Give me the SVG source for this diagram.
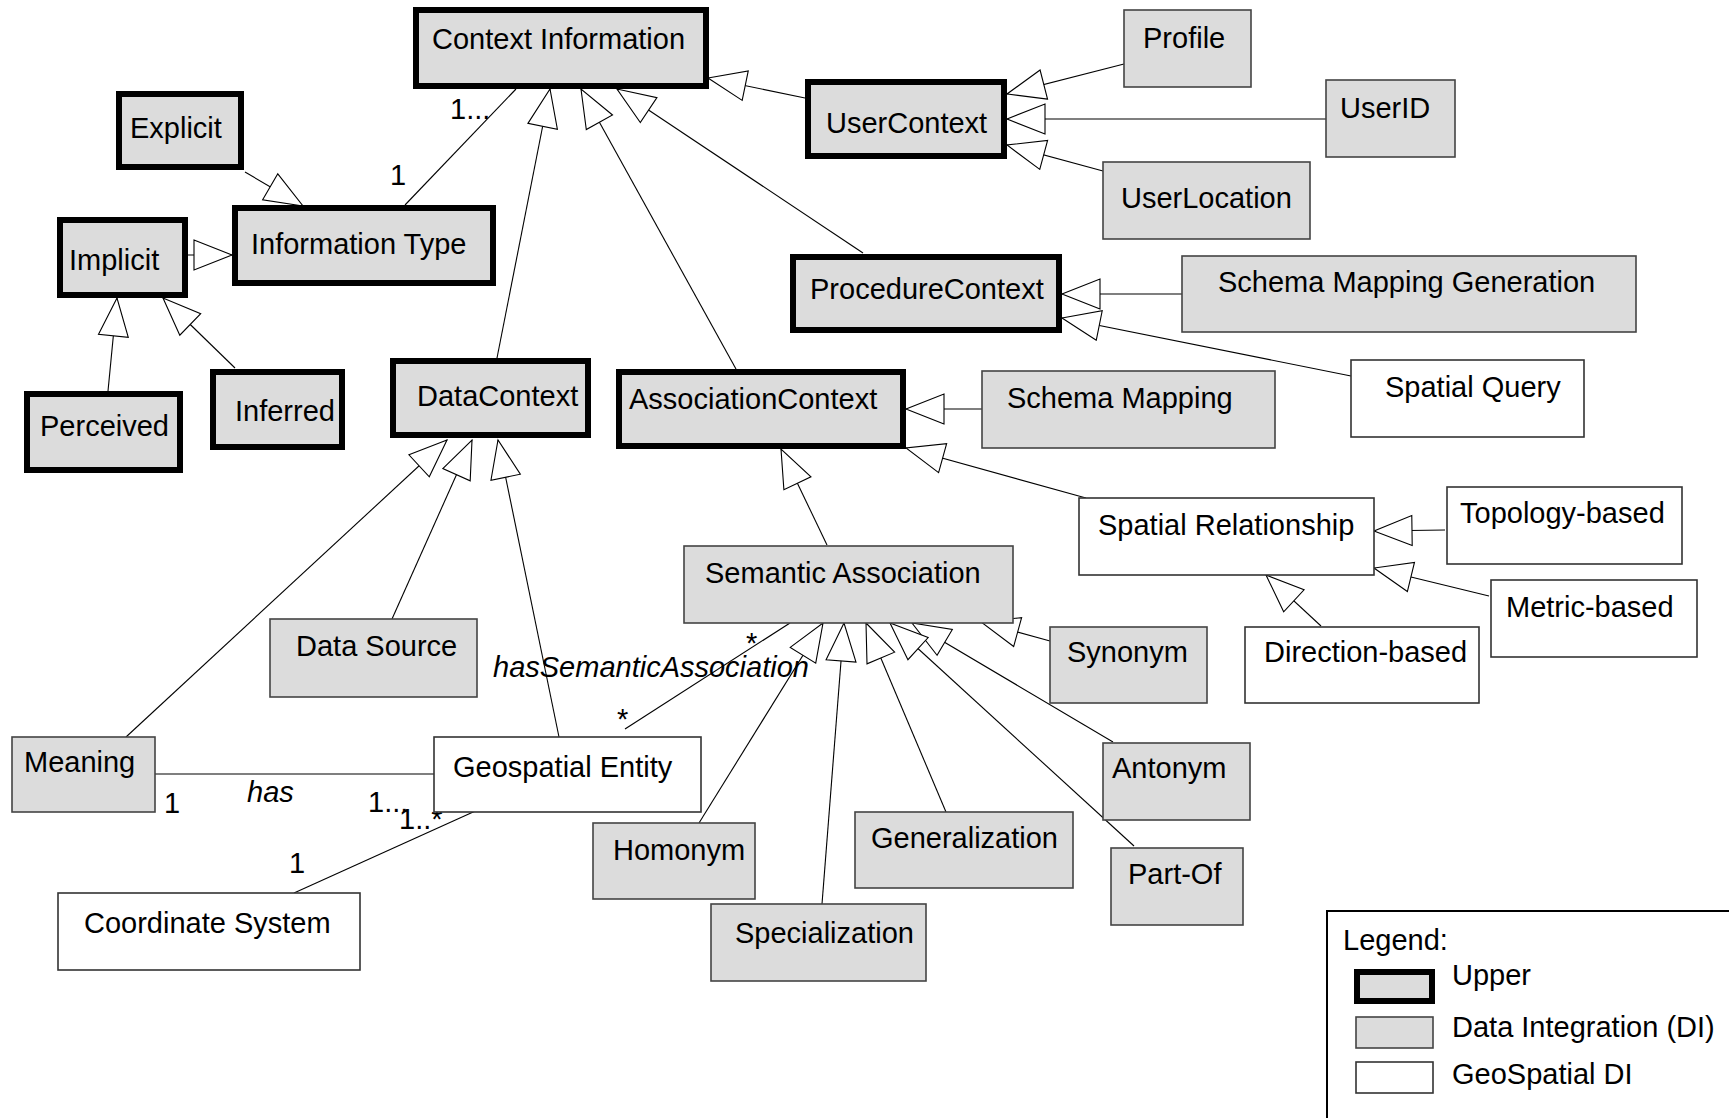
<svg xmlns="http://www.w3.org/2000/svg" width="1729" height="1118" viewBox="0 0 1729 1118">
<defs>
<style>
text{font-family:"Liberation Sans",Arial,sans-serif;font-size:29px;fill:#000}
.it{font-style:italic}
.up{fill:#dcdcdc;stroke:#000;stroke-width:6}
.di{fill:#dcdcdc;stroke:#444;stroke-width:1.6}
.geo{fill:#fff;stroke:#333;stroke-width:1.6}
.c{stroke:#000;stroke-width:1.1;fill:none}
.g{marker-end:url(#tri)}
</style>
<marker id="tri" markerUnits="userSpaceOnUse" markerWidth="42" markerHeight="34" viewBox="0 0 42 34" refX="40" refY="17" orient="auto">
<path d="M2,2 L40,17 L2,32 Z" fill="#fff" stroke="#000" stroke-width="1.1"/>
</marker>
</defs>
<rect width="1729" height="1118" fill="#fff"/>
<g id="connectors">
<line class="c g" x1="805" y1="98" x2="708" y2="78"/>
<line class="c" x1="405" y1="205" x2="516" y2="89"/>
<line class="c g" x1="497" y1="358" x2="550" y2="89"/>
<line class="c g" x1="736" y1="369" x2="581" y2="89"/>
<line class="c g" x1="863" y1="253" x2="617" y2="89"/>
<line class="c g" x1="245" y1="172" x2="303" y2="206"/>
<line class="c g" x1="188" y1="255" x2="232" y2="255"/>
<line class="c g" x1="108" y1="391" x2="117" y2="298"/>
<line class="c g" x1="235" y1="368" x2="163" y2="298"/>
<line class="c g" x1="1124" y1="64" x2="1007" y2="94"/>
<line class="c g" x1="1326" y1="119" x2="1007" y2="119"/>
<line class="c g" x1="1103" y1="171" x2="1007" y2="145"/>
<line class="c g" x1="1182" y1="294" x2="1062" y2="294"/>
<line class="c g" x1="1351" y1="376" x2="1062" y2="318"/>
<line class="c g" x1="982" y1="409" x2="906" y2="409"/>
<line class="c g" x1="1086" y1="498" x2="906" y2="448"/>
<line class="c g" x1="827" y1="545" x2="781" y2="449"/>
<line class="c g" x1="1445" y1="530" x2="1374" y2="531"/>
<line class="c g" x1="1489" y1="596" x2="1374" y2="568"/>
<line class="c g" x1="1321" y1="626" x2="1266" y2="575"/>
<line class="c g" x1="1050" y1="641" x2="981" y2="622"/>
<line class="c g" x1="1113" y1="742" x2="912" y2="623"/>
<line class="c g" x1="1134" y1="846" x2="890" y2="623"/>
<line class="c g" x1="946" y1="812" x2="866" y2="623"/>
<line class="c g" x1="822" y1="904" x2="844" y2="623"/>
<line class="c g" x1="699" y1="823" x2="823" y2="623"/>
<line class="c g" x1="126" y1="737" x2="447" y2="440"/>
<line class="c g" x1="392" y1="619" x2="472" y2="440"/>
<line class="c g" x1="559" y1="737" x2="498" y2="440"/>
<line class="c" x1="625" y1="729" x2="790" y2="623"/>
<line class="c" x1="155" y1="774" x2="434" y2="774"/>
<line class="c" x1="482" y1="808" x2="294" y2="893"/>
</g>
<g id="labels">
<text x="450" y="119">1...</text>
<text x="390" y="185">1</text>
<text class="it" x="247" y="802">has</text>
<text x="164" y="813">1</text>
<text x="368" y="812">1...</text>
<text x="399" y="829">1..*</text>
<text x="289" y="873">1</text>
<text x="617" y="729">*</text>
<text x="746" y="653">*</text>
<text class="it" x="493" y="677">hasSemanticAssociation</text>
</g>
<g id="n-context"><rect class="up" x="416" y="10" width="290" height="76"/><text x="432" y="49">Context Information</text></g>
<g id="n-explicit"><rect class="up" x="119" y="94" width="122" height="73"/><text x="130" y="138">Explicit</text></g>
<g id="n-infotype"><rect class="up" x="235" y="208" width="258" height="75"/><text x="251" y="254">Information Type</text></g>
<g id="n-implicit"><rect class="up" x="60" y="220" width="125" height="75"/><text x="69" y="270">Implicit</text></g>
<g id="n-perceived"><rect class="up" x="27" y="394" width="153" height="76"/><text x="40" y="436">Perceived</text></g>
<g id="n-inferred"><rect class="up" x="213" y="372" width="129" height="75"/><text x="235" y="421">Inferred</text></g>
<g id="n-datactx"><rect class="up" x="393" y="361" width="195" height="74"/><text x="417" y="406">DataContext</text></g>
<g id="n-assocctx"><rect class="up" x="619" y="372" width="284" height="74"/><text x="629" y="409">AssociationContext</text></g>
<g id="n-userctx"><rect class="up" x="808" y="82" width="196" height="74"/><text x="826" y="133">UserContext</text></g>
<g id="n-procctx"><rect class="up" x="793" y="257" width="266" height="73"/><text x="810" y="299">ProcedureContext</text></g>
<g id="n-profile"><rect class="di" x="1124" y="10" width="127" height="77"/><text x="1143" y="48">Profile</text></g>
<g id="n-userid"><rect class="di" x="1326" y="80" width="129" height="77"/><text x="1340" y="118">UserID</text></g>
<g id="n-userloc"><rect class="di" x="1103" y="162" width="207" height="77"/><text x="1121" y="208">UserLocation</text></g>
<g id="n-smg"><rect class="di" x="1182" y="256" width="454" height="76"/><text x="1218" y="292">Schema Mapping Generation</text></g>
<g id="n-squery"><rect class="geo" x="1351" y="360" width="233" height="77"/><text x="1385" y="397">Spatial Query</text></g>
<g id="n-smap"><rect class="di" x="982" y="371" width="293" height="77"/><text x="1007" y="408">Schema Mapping</text></g>
<g id="n-srel"><rect class="geo" x="1079" y="498" width="295" height="77"/><text x="1098" y="535">Spatial Relationship</text></g>
<g id="n-topo"><rect class="geo" x="1447" y="487" width="235" height="77"/><text x="1460" y="523">Topology-based</text></g>
<g id="n-metric"><rect class="geo" x="1491" y="580" width="206" height="77"/><text x="1506" y="617">Metric-based</text></g>
<g id="n-direction"><rect class="geo" x="1245" y="627" width="234" height="76"/><text x="1264" y="662">Direction-based</text></g>
<g id="n-semassoc"><rect class="di" x="684" y="546" width="329" height="77"/><text x="705" y="583">Semantic Association</text></g>
<g id="n-synonym"><rect class="di" x="1050" y="627" width="157" height="76"/><text x="1067" y="662">Synonym</text></g>
<g id="n-antonym"><rect class="di" x="1103" y="743" width="147" height="77"/><text x="1112" y="778">Antonym</text></g>
<g id="n-partof"><rect class="di" x="1111" y="848" width="132" height="77"/><text x="1128" y="884">Part-Of</text></g>
<g id="n-general"><rect class="di" x="855" y="812" width="218" height="76"/><text x="871" y="848">Generalization</text></g>
<g id="n-special"><rect class="di" x="711" y="904" width="215" height="77"/><text x="735" y="943">Specialization</text></g>
<g id="n-homonym"><rect class="di" x="593" y="823" width="162" height="76"/><text x="613" y="860">Homonym</text></g>
<g id="n-geo"><rect class="geo" x="434" y="737" width="267" height="75"/><text x="453" y="777">Geospatial Entity</text></g>
<g id="n-meaning"><rect class="di" x="12" y="737" width="143" height="75"/><text x="24" y="772">Meaning</text></g>
<g id="n-datasource"><rect class="di" x="270" y="619" width="207" height="78"/><text x="296" y="656">Data Source</text></g>
<g id="n-coordsys"><rect class="geo" x="58" y="893" width="302" height="77"/><text x="84" y="933">Coordinate System</text></g>
<g id="legend">
<rect x="1327" y="911" width="420" height="230" fill="#fff" stroke="#000" stroke-width="2"/>
<text x="1343" y="950">Legend:</text>
<rect class="up" x="1357" y="972" width="75" height="29"/>
<text x="1452" y="985">Upper</text>
<rect class="di" x="1356" y="1017" width="77" height="31"/>
<text x="1452" y="1037">Data Integration (DI)</text>
<rect class="geo" x="1356" y="1062" width="77" height="31"/>
<text x="1452" y="1084">GeoSpatial DI</text>
</g>
</svg>
